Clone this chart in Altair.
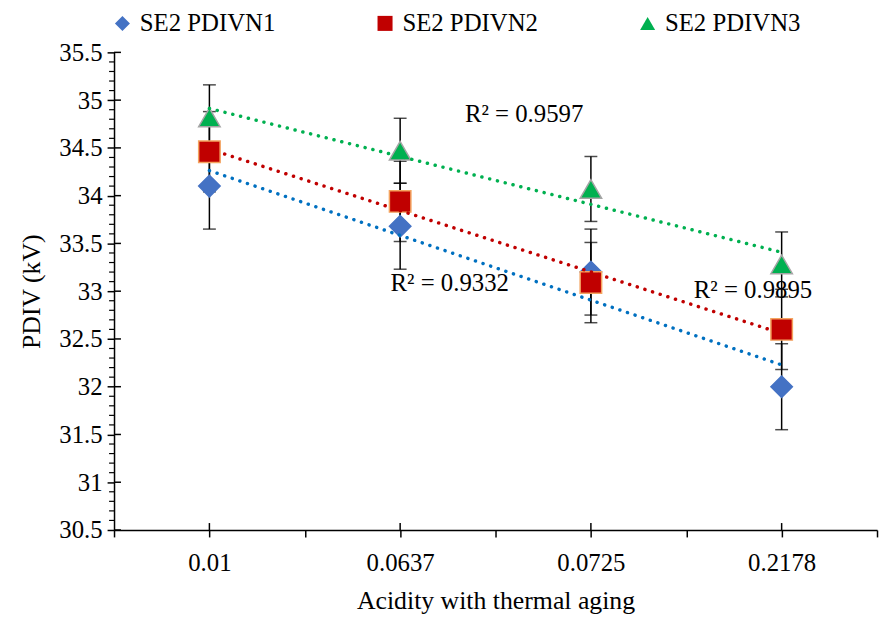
import altair as alt
import pandas as pd

# ---- data ----
categories = ["0.01", "0.0637", "0.0725", "0.2178"]
series_names = ["SE2 PDIVN1", "SE2 PDIVN2", "SE2 PDIVN3"]
pdivn1 = [34.10, 33.68, 33.20, 32.00]
pdivn2 = [34.46, 33.94, 33.09, 32.60]
pdivn3 = [34.82, 34.47, 34.07, 33.28]
err1 = [0.45, 0.45, 0.45, 0.45]
err2 = [0.42, 0.42, 0.42, 0.42]
err3 = [0.34, 0.34, 0.34, 0.34]

marker_colors = ["#4472C4", "#C00000", "#00B050"]
marker_strokes = ["#4472C4", "#F4A460", "#A5A5A5"]
marker_shapes = ["diamond", "square", "triangle-up"]
trend_colors = ["#0070C0", "#C00000", "#00B050"]

r2_texts = ["R² = 0.9332", "R² = 0.9895", "R² = 0.9597"]
r2_x = [2.26, 3.85, 2.65]
r2_y = [33.08, 33.01, 34.85]

y_major = [30.5, 31, 31.5, 32, 32.5, 33, 33.5, 34, 34.5, 35, 35.5]
x_ticks = [0.5, 1, 1.5, 2, 2.5, 3, 3.5, 4, 4.5]

FONT = "Liberation Serif, Times New Roman, DejaVu Serif, serif"
W, H = 770, 482

rows = []
for name, vals, errs in zip(series_names, [pdivn1, pdivn2, pdivn3], [err1, err2, err3]):
    for i, (c, v, e) in enumerate(zip(categories, vals, errs)):
        rows.append({"series": name, "cat": c, "x": i + 1, "y": v,
                     "lo": v - e, "hi": v + e})
df = pd.DataFrame(rows)

minor_vals = [round(30.5 + 0.1 * k, 1) for k in range(51) if k % 5 != 0]
df_minor = pd.DataFrame({"y": minor_vals})
df_major = pd.DataFrame({"y": y_major})
df_xin = pd.DataFrame({"x": [1, 2, 3, 4]})
df_r2 = pd.DataFrame({"x": r2_x, "y": r2_y, "t": r2_texts})

label_expr = " : ".join(
    [f"datum.value == {i + 1} ? '{c}'" for i, c in enumerate(categories)]
) + " : ''"

xscale = alt.Scale(domain=[0.5, 4.5], nice=False, zero=False)
yscale = alt.Scale(domain=[30.5, 35.5], nice=False, zero=False)

x_enc = alt.X("x:Q", scale=xscale,
              axis=alt.Axis(values=x_ticks, labelExpr=label_expr,
                            title="Acidity with thermal aging",
                            tickSize=7, labelPadding=14, titlePadding=12))
y_enc = alt.Y("y:Q", scale=yscale,
              axis=alt.Axis(values=y_major, format="~g", title="PDIV (kV)",
                            tickSize=7, labelPadding=5, titlePadding=14))

base = alt.Chart(df)

err_rule = base.mark_rule(color="black", strokeWidth=1.5).encode(
    x=x_enc, y=alt.Y("lo:Q", scale=yscale), y2="hi:Q")
cap_lo = base.mark_tick(color="black", thickness=1.5, size=13,
                        orient="horizontal").encode(
    x=x_enc, y=alt.Y("lo:Q", scale=yscale))
cap_hi = base.mark_tick(color="black", thickness=1.5, size=13,
                        orient="horizontal").encode(
    x=x_enc, y=alt.Y("hi:Q", scale=yscale))

points = base.mark_point(filled=True, size=470, strokeWidth=1.5,
                         opacity=1).encode(
    x=x_enc, y=y_enc,
    color=alt.Color("series:N",
                    scale=alt.Scale(domain=series_names, range=marker_colors),
                    legend=alt.Legend(title=None)),
    shape=alt.Shape("series:N",
                    scale=alt.Scale(domain=series_names, range=marker_shapes),
                    legend=alt.Legend(title=None)),
    stroke=alt.Stroke("series:N",
                      scale=alt.Scale(domain=series_names, range=marker_strokes),
                      legend=None),
)

trends = []
for name, col in zip(series_names, trend_colors):
    trends.append(
        base.transform_filter(alt.datum.series == name)
        .transform_regression("x", "y")
        .mark_line(color=col, strokeDash=[0.1, 8], strokeCap="round",
                   strokeWidth=3.5)
        .encode(x=alt.X("x:Q", scale=xscale), y=alt.Y("y:Q", scale=yscale))
    )

minor = alt.Chart(df_minor).mark_rule(color="black", strokeWidth=1.2).encode(
    y=alt.Y("y:Q", scale=yscale), x=alt.value(-5), x2=alt.value(0))
major_in = alt.Chart(df_major).mark_rule(color="black", strokeWidth=1.5).encode(
    y=alt.Y("y:Q", scale=yscale), x=alt.value(0), x2=alt.value(7))
x_in = alt.Chart(df_xin).mark_rule(color="black", strokeWidth=1.5).encode(
    x=alt.X("x:Q", scale=xscale), y=alt.value(H - 7), y2=alt.value(H))

r2 = alt.Chart(df_r2).mark_text(font=FONT, fontSize=25,
                                color="black").encode(
    x=alt.X("x:Q", scale=xscale), y=alt.Y("y:Q", scale=yscale), text="t:N")

chart = alt.layer(
    err_rule, cap_lo, cap_hi, points, *trends, minor, major_in, x_in, r2
).properties(
    width=W, height=H,
    autosize=alt.AutoSizeParams(type="none"),
    padding={"left": 107, "top": 42, "right": 2, "bottom": 82},
).configure_view(stroke=None).configure_axis(
    grid=False, domainColor="black", domainWidth=1.5, tickColor="black",
    tickWidth=1.5, labelFont=FONT, labelFontSize=25,
    labelColor="black", titleFont=FONT, titleFontSize=26,
    titleFontWeight="normal", titleColor="black",
).configure_legend(
    orient="none", legendX=-4, legendY=-42, direction="horizontal",
    columns=3, columnPadding=98, labelFont=FONT,
    labelFontSize=25, labelColor="black", symbolSize=230,
    symbolStrokeWidth=0, labelOffset=5, symbolOpacity=1,
)

chart.save("out.html", embed_options={"renderer": "svg", "actions": False})
